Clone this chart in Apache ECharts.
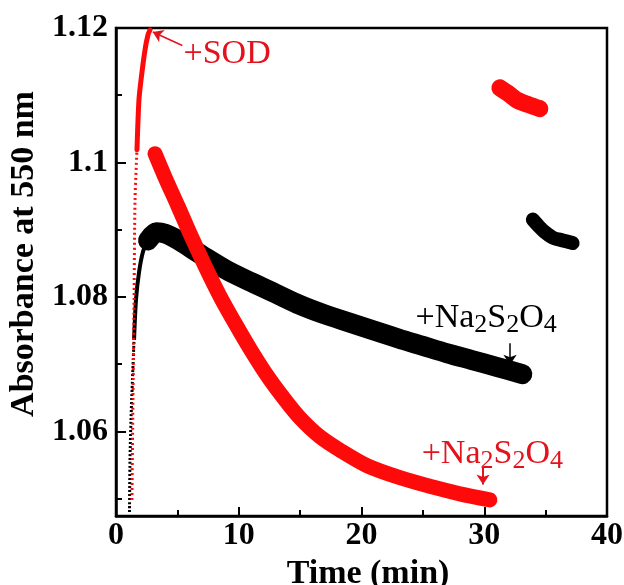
<!DOCTYPE html>
<html><head><meta charset="utf-8">
<script src="https://cdn.jsdelivr.net/npm/echarts@6/dist/echarts.min.js"></script>
<style>html,body{margin:0;padding:0;background:#fff}#c{width:624px;height:585px}</style>
</head><body><div id="c"></div>
<script>
// ---- data ----
const xTicks = [0, 10, 20, 30, 40];
const yTickLabels = [1.06, 1.08, 1.1, 1.12];
const yMinorTicks = [1.05, 1.07, 1.09, 1.11];

const blackRiseTime = [1.10, 1.14, 1.22, 1.34, 1.47, 1.63, 1.87, 2.20, 2.61];
const blackRiseAbs  = [1.0480, 1.0558, 1.0617, 1.0677, 1.0736, 1.0796, 1.0836, 1.0867, 1.0885];

const blackDecayTime = [2.61, 3.3, 4.0, 5, 7, 9, 11, 13, 15, 17, 19, 21, 23, 25, 27, 29, 31, 33.1];
const blackDecayAbs  = [1.0884, 1.0896, 1.0894, 1.0885, 1.0862, 1.0840, 1.0822, 1.0805, 1.0788, 1.0774, 1.0762, 1.0750, 1.0738, 1.0727, 1.0716, 1.0706, 1.0696, 1.0685];

const blackTailTime = [33.96, 34.5, 34.9, 35.6, 36.4, 37.2];
const blackTailAbs  = [1.0915, 1.0904, 1.0897, 1.0888, 1.0884, 1.0880];

const redRiseTime = [1.30, 1.38, 1.47, 1.55, 1.71, 1.87, 2.04, 2.36, 2.61, 2.77];
const redRiseAbs  = [1.0498, 1.0647, 1.0796, 1.0944, 1.1019, 1.1093, 1.1123, 1.1167, 1.1190, 1.1197];

const redDecayTime = [3.18, 3.99, 5.05, 6.03, 7.25, 8.47, 9.69, 10.91, 12.38, 13.76, 14.98, 16.61, 18.24, 20.44, 23.13, 25.81, 28.01, 30.46];
const redDecayAbs  = [1.1013, 1.0978, 1.0935, 1.0894, 1.0846, 1.0801, 1.0761, 1.0723, 1.0681, 1.0647, 1.0620, 1.0592, 1.0572, 1.0549, 1.0531, 1.0517, 1.0507, 1.0498];

const redTailTime = [31.27, 32.0, 32.65, 33.6, 34.53];
const redTailAbs  = [1.1111, 1.1102, 1.1093, 1.1086, 1.1080];

const yMin = 1.0474, yMax = 1.12;

const pairs = (xs, ys) => xs.map((x, i) => [x, ys[i]]);

const BLACK = '#000000', RED = '#ff0a0a', RED_TXT = '#e3121c';
const serif = 'Liberation Serif, Times New Roman, serif';

function chem(color) {
  return {
    m: { fontSize: 34, lineHeight: 40, fontFamily: serif, color: color },
    s: { fontSize: 26, lineHeight: 27, verticalAlign: 'bottom', fontFamily: serif, color: color }
  };
}

const arrowLine = (color, width, from, to) => ({
  silent: true, symbol: ['none', 'arrow'], symbolSize: 10, label: { show: false },
  lineStyle: { color: color, width: width, type: 'solid' },
  emphasis: { disabled: true },
  data: [[{ coord: from }, { coord: to }]]
});

const chart = echarts.init(document.getElementById('c'), null, { renderer: 'canvas' });
chart.setOption({
  animation: false,
  backgroundColor: '#fff',
  grid: { left: 116, right: 17, top: 28, bottom: 69, show: true, borderColor: '#000', borderWidth: 2.5, outerBoundsMode: 'none' },
  xAxis: {
    type: 'value', min: xTicks[0], max: xTicks[xTicks.length - 1], interval: 10,
    name: 'Time (min)', nameLocation: 'middle', nameGap: 31,
    nameTextStyle: { fontFamily: serif, fontWeight: 'bold', fontSize: 34, color: '#000', padding: [0, 0, 0, 13] },
    axisLine: { lineStyle: { color: '#000', width: 2.5 } },
    axisTick: { inside: true, length: 9, lineStyle: { color: '#000', width: 2 } },
    minorTick: { show: true, splitNumber: 2, length: 6, lineStyle: { color: '#000', width: 2 } },
    axisLabel: { margin: 4, fontFamily: serif, fontWeight: 'bold', fontSize: 32, color: '#000' },
    splitLine: { show: false }
  },
  yAxis: [{
    type: 'value', min: yMin, max: yMax,
    name: 'Absorbance at 550 nm', nameLocation: 'middle', nameGap: 72,
    nameTextStyle: { fontFamily: serif, fontWeight: 'bold', fontSize: 34, color: '#000', padding: [0, 0, 0, 36] },
    axisLine: { show: true, lineStyle: { color: '#000', width: 2.5 } },
    axisTick: { inside: true, length: 10, customValues: yTickLabels, lineStyle: { color: '#000', width: 2 } },
    axisLabel: { margin: 8, customValues: yTickLabels, fontFamily: serif, fontWeight: 'bold', fontSize: 32, color: '#000' },
    splitLine: { show: false }
  }, {
    type: 'value', min: yMin, max: yMax, position: 'left',
    axisLine: { show: false },
    axisTick: { show: true, inside: true, length: 6, customValues: yMinorTicks, lineStyle: { color: '#000', width: 2 } },
    axisLabel: { show: false },
    splitLine: { show: false }
  }],
  series: [
    { type: 'line', data: pairs(blackRiseTime, blackRiseAbs).slice(0, 5), showSymbol: false, smooth: 0.3,
      lineStyle: { color: BLACK, width: 3, type: [2, 2] } },
    { type: 'line', data: pairs(blackRiseTime, blackRiseAbs).slice(4), showSymbol: false, smooth: 0.3,
      lineStyle: { color: BLACK, width: 4 } },
    { type: 'line', data: pairs(blackDecayTime, blackDecayAbs), showSymbol: false, smooth: 0.3,
      lineStyle: { color: BLACK, width: 20, cap: 'round', join: 'round' },
      markPoint: {
        symbolSize: 0, silent: true,
        data: [{ coord: [24.4, 1.0769], value: 0 }],
        label: { show: true, position: 'right', distance: 0, formatter: '{m|+Na}{s|2}{m|S}{s|2}{m|O}{s|4}', rich: chem(BLACK) }
      },
      markLine: arrowLine(BLACK, 1.5, [32.1, 1.0731], [32.1, 1.0699]) },
    { type: 'line', data: pairs(blackTailTime, blackTailAbs), showSymbol: false, smooth: 0.3,
      lineStyle: { color: BLACK, width: 14, cap: 'round', join: 'round' } },
    { type: 'line', data: pairs(redRiseTime, redRiseAbs).slice(0, 5), showSymbol: false, smooth: 0.3,
      lineStyle: { color: RED, width: 3, type: [2, 3] } },
    { type: 'line', data: pairs(redRiseTime, redRiseAbs).slice(4), showSymbol: false, smooth: 0.3,
      lineStyle: { color: RED, width: 5, cap: 'round' },
      markPoint: {
        symbolSize: 0, silent: true,
        data: [{ coord: [5.5, 1.1161], value: 0 }],
        label: { show: true, position: 'right', distance: 0, formatter: '+SOD', fontFamily: serif, fontSize: 34, color: RED_TXT }
      },
      markLine: arrowLine(RED_TXT, 1.5, [5.4, 1.1174], [3.0, 1.1194]) },
    { type: 'line', data: pairs(redDecayTime, redDecayAbs), showSymbol: false, smooth: 0.3,
      lineStyle: { color: RED, width: 15, cap: 'round', join: 'round' },
      markPoint: {
        symbolSize: 0, silent: true,
        data: [{ coord: [24.9, 1.0566], value: 0 }],
        label: { show: true, position: 'right', distance: 0, formatter: '{m|+Na}{s|2}{m|S}{s|2}{m|O}{s|4}', rich: chem(RED_TXT) }
      },
      markLine: arrowLine(RED_TXT, 2, [29.9, 1.0547], [29.9, 1.0521]) },
    { type: 'line', data: pairs(redTailTime, redTailAbs), showSymbol: false, smooth: 0.3,
      lineStyle: { color: RED, width: 17, cap: 'round', join: 'round' } }
  ]
});
</script>
</body></html>
